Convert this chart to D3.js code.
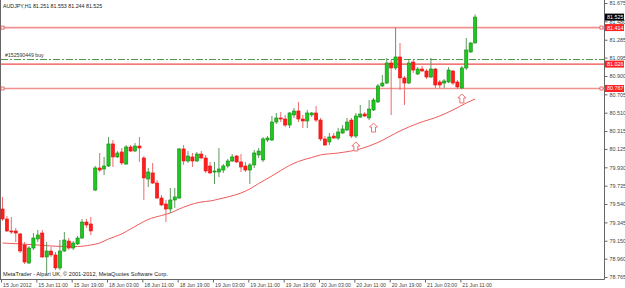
<!DOCTYPE html>
<html><head><meta charset="utf-8">
<style>
body { margin: 0; background: #fff; }
svg { display: block; font-family: 'Liberation Sans', Arial, sans-serif; }
</style>
</head>
<body>
<svg id="chart" width="625" height="288"></svg>
<script src="https://d3js.org/d3.v7.min.js"></script>
<script>
// AUDJPY H1 bars, 15 Jun 03:00 .. 21 Jun 14:00
const opens = [79.487,79.381,79.254,79.254,79.222,79.105,78.914,79.073,79.169,79.232,
  78.978,79.041,78.999,78.861,79.041,79.147,79.073,79.116,79.179,79.349,
  79.328,79.689,79.923,79.912,79.944,80.178,80.040,80.093,79.965,80.146,
  80.103,80.156,80.029,79.806,79.870,79.763,79.604,79.540,79.487,79.583,
  79.604,80.125,79.997,80.040,79.997,80.071,80.029,79.944,79.880,79.880,
  79.901,79.944,79.997,80.050,79.987,79.944,79.901,79.955,80.061,80.008,
  80.220,80.220,80.411,80.454,80.443,80.379,80.486,80.528,80.443,80.422,
  80.486,80.507,80.432,80.231,80.199,80.262,80.241,80.294,80.326,80.432,
  80.262,80.464,80.496,80.454,80.539,80.624,80.794,80.825,81.038,80.985,
  81.102,80.879,80.825,81.048,80.921,80.974,80.953,80.889,80.974,80.836,
  80.825,80.836,80.953,80.836,80.772,80.985,81.155,81.251];
const highs = [79.615,79.413,79.402,79.286,79.232,79.137,79.094,79.232,79.264,79.264,
  79.137,79.084,79.031,79.158,79.243,79.179,79.147,79.201,79.381,79.381,
  79.402,79.944,80.082,80.040,80.252,80.220,80.103,80.135,80.167,80.167,
  80.188,80.252,80.050,79.923,79.976,79.795,79.636,79.583,79.710,79.710,
  80.135,80.167,80.103,80.082,80.093,80.103,80.061,79.987,79.987,80.135,
  79.965,80.018,80.071,80.061,80.071,79.987,79.976,80.114,80.135,80.252,
  80.262,80.475,80.507,80.517,80.486,80.517,80.560,80.624,80.486,80.539,
  80.517,80.581,80.454,80.262,80.294,80.294,80.347,80.379,80.454,80.454,
  80.507,80.592,80.517,80.645,80.666,80.815,80.910,81.091,81.070,81.414,
  81.250,80.900,81.070,81.070,80.995,81.006,80.974,81.091,80.985,80.857,
  80.868,80.995,80.963,80.857,81.006,81.303,81.261,81.553];
const lows = [79.360,79.243,79.222,79.137,79.020,78.903,78.903,79.052,79.137,78.967,
  78.808,78.978,78.839,78.839,79.031,79.052,79.052,79.105,79.169,79.286,
  79.211,79.678,79.880,79.848,79.933,79.933,80.029,79.955,79.955,80.093,
  80.093,79.987,79.583,79.721,79.753,79.593,79.519,79.349,79.445,79.498,
  79.593,79.955,79.976,79.933,79.987,80.018,79.870,79.859,79.753,79.827,
  79.870,79.923,79.987,79.976,79.880,79.880,79.753,79.923,80.029,79.987,
  80.199,80.209,80.390,80.411,80.358,80.347,80.454,80.411,80.347,80.347,
  80.464,80.411,80.209,80.156,80.167,80.231,80.220,80.284,80.316,80.241,
  80.241,80.454,80.464,80.432,80.528,80.613,80.783,80.815,80.486,80.963,
  80.751,80.592,80.815,80.932,80.910,80.942,80.868,80.879,80.772,80.772,
  80.772,80.825,80.804,80.762,80.762,80.963,81.144,81.244];
const closes = [79.381,79.254,79.243,79.232,79.041,78.924,79.073,79.179,79.211,78.978,
  79.041,78.999,78.861,79.041,79.158,79.073,79.126,79.179,79.349,79.317,
  79.254,79.923,79.901,79.944,80.178,80.040,80.082,79.976,80.146,80.103,
  80.156,80.135,79.817,79.880,79.763,79.604,79.530,79.487,79.583,79.615,
  80.125,79.997,80.050,79.997,80.071,80.029,79.891,79.870,79.891,79.912,
  79.944,79.997,80.040,79.987,79.933,79.901,79.955,80.082,80.103,80.231,
  80.241,80.411,80.454,80.443,80.379,80.507,80.528,80.443,80.422,80.507,
  80.507,80.432,80.231,80.167,80.252,80.241,80.305,80.337,80.411,80.262,
  80.475,80.496,80.475,80.549,80.645,80.794,80.825,81.038,80.985,81.102,
  80.879,80.825,81.038,80.963,80.974,80.953,80.889,80.974,80.804,80.804,
  80.847,80.963,80.825,80.783,80.985,81.176,81.250,81.525];

// moving average, read at these bars
const maBars = [0,4,8,13,17,20,22,24,27,29,31,33,36,38,40,42,45,47,49,51,
  54,56,58,61,63,65,67,70,72,76,81,85,90,94,99,102,105,107];
const maValues = [79.126,79.116,79.105,79.090,79.089,79.105,79.126,79.169,79.222,79.275,
  79.328,79.376,79.418,79.445,79.487,79.524,79.562,79.572,79.593,79.615,
  79.657,79.700,79.758,79.838,79.896,79.950,79.992,80.034,80.061,80.082,
  80.125,80.194,80.316,80.396,80.475,80.539,80.613,80.656];

const timeTickBars = [0,8,16,24,32,40,48,56,64,72,80,88,96,104];
const timeLabels = ["15 Jun 2012","15 Jun 11:00","15 Jun 19:00","18 Jun 03:00","18 Jun 11:00",
  "18 Jun 19:00","19 Jun 03:00","19 Jun 11:00","19 Jun 19:00","20 Jun 03:00","20 Jun 11:00",
  "20 Jun 19:00","21 Jun 03:00","21 Jun 11:00"];
const priceTicks = [81.675,81.480,81.285,81.095,80.900,80.705,80.510,80.315,80.125,
  79.930,79.735,79.540,79.345,79.150,78.960,78.765];

const levelPrices = [81.414, 81.026, 80.767];
const levelSelected = [true, false, true];
const orderPrice = 81.075;
const orderLabel = "#152590449 buy";
const arrowBars = [80, 84, 104];
const arrowPrices = [80.146, 80.347, 80.656];
const header = "AUDJPY,H1  81.251 81.553 81.244 81.525";
const footer = "MetaTrader - Alpari UK, \u00a9 2001-2012, MetaQuotes Software Corp.";

const svg = d3.select("#chart");
const plotRight = 604.5, plotBottom = 279.5;

const x = d3.scaleLinear().domain([0, 107]).range([2.5, 475.1]);
const y = d3.scaleLinear().domain([78.765, 81.675]).range([277, 3]);

// frame
svg.append("line").attr("x1", 0.5).attr("x2", 0.5).attr("y1", 0).attr("y2", plotBottom)
  .attr("stroke", "#666");
svg.append("line").attr("x1", 0).attr("x2", plotRight).attr("y1", plotBottom).attr("y2", plotBottom)
  .attr("stroke", "#666");

// right price axis
const yAxis = svg.append("g").attr("transform", `translate(${plotRight},0)`)
  .call(d3.axisRight(y).tickValues(priceTicks).tickFormat(d3.format(".3f")).tickSize(3).tickPadding(2));
yAxis.select(".domain").attr("d", `M0,0V${plotBottom}`).attr("stroke", "#666");
yAxis.selectAll(".tick line").attr("stroke", "#666");
yAxis.selectAll("text").attr("font-size", 5.4).attr("fill", "#444")
  .attr("font-family", "'Liberation Sans', Arial, sans-serif");

// bottom time axis
const xAxis = svg.append("g").attr("transform", `translate(-1.5,${plotBottom})`)
  .call(d3.axisBottom(x).tickValues(timeTickBars).tickFormat((d, i) => timeLabels[i]).tickSize(3).tickPadding(1));
xAxis.select(".domain").remove();
xAxis.selectAll(".tick line").attr("stroke", "#666");
xAxis.selectAll("text").attr("text-anchor", "start").attr("dx", 1.5).attr("font-size", 5.2)
  .attr("fill", "#444").attr("font-family", "'Liberation Sans', Arial, sans-serif");

// horizontal levels
levelPrices.forEach((p, k) => {
  const yy = y(p);
  svg.append("line").attr("x1", 1).attr("x2", plotRight).attr("y1", yy).attr("y2", yy)
    .attr("stroke", levelSelected[k] ? "#f39090" : "#f04848")
    .attr("stroke-width", levelSelected[k] ? 1.6 : 1.1);
  if (levelSelected[k]) {
    [2.5, 601.5].forEach(hx => {
      svg.append("rect").attr("x", hx - 1.5).attr("y", yy - 1.5).attr("width", 3).attr("height", 3)
        .attr("fill", "#fff").attr("stroke", "#e05050").attr("stroke-width", 0.8);
    });
  }
});

// order line
svg.append("line").attr("x1", 1).attr("x2", plotRight).attr("y1", y(orderPrice)).attr("y2", y(orderPrice))
  .attr("stroke", "#4f9a4f").attr("stroke-width", 1).attr("stroke-dasharray", "7,2,2,2");
svg.append("text").attr("x", 5).attr("y", y(orderPrice) - 2).attr("font-size", 5.2)
  .attr("fill", "#333").text(orderLabel);

// moving average
const maLine = d3.line().x(d => x(d[0])).y(d => y(d[1])).curve(d3.curveMonotoneX);
svg.append("path").datum(maBars.map((b, k) => [b, maValues[k]]))
  .attr("d", maLine).attr("fill", "none").attr("stroke", "#f05a5a").attr("stroke-width", 1);

// candles
const bars = d3.range(opens.length).map(i => ({
  i, o: opens[i], h: highs[i], l: lows[i], c: closes[i], up: closes[i] >= opens[i]
}));
const cg = svg.append("g");
cg.selectAll("line.wick").data(bars).join("line").attr("class", "wick")
  .attr("x1", d => x(d.i)).attr("x2", d => x(d.i))
  .attr("y1", d => y(d.h)).attr("y2", d => y(d.l))
  .attr("stroke", d => d.up ? "#5f985f" : "#ee6a6a").attr("stroke-width", 1);
cg.selectAll("rect.body").data(bars).join("rect").attr("class", "body")
  .attr("x", d => x(d.i) - 1.6).attr("width", 3.2)
  .attr("y", d => y(Math.max(d.o, d.c)))
  .attr("height", d => Math.max(1, Math.abs(y(d.o) - y(d.c))))
  .attr("fill", d => d.up ? "#1ec81e" : "#ff1e1e")
  .attr("stroke", d => d.up ? "#138a13" : "#e81010").attr("stroke-width", 0.6);

// arrows
const arrowPath = "M0,-5L4,-1L2,-1L2,4L-2,4L-2,-1L-4,-1Z";
arrowBars.forEach((b, k) => {
  svg.append("path").attr("d", arrowPath)
    .attr("transform", `translate(${x(b)},${y(arrowPrices[k])})`)
    .attr("fill", "#fff").attr("stroke", "#ee7070").attr("stroke-width", 1);
});

// price labels on the axis
const tags = [
  { p: closes[closes.length - 1], bg: "#000" },
  { p: levelPrices[0], bg: "#f22" },
  { p: levelPrices[1], bg: "#f22" },
  { p: levelPrices[2], bg: "#f22" }
];
tags.forEach(t => {
  const yy = y(t.p);
  svg.append("rect").attr("x", plotRight + 0.5).attr("y", yy - 3.5).attr("width", 19).attr("height", 7)
    .attr("fill", t.bg);
  svg.append("text").attr("x", plotRight + 2.5).attr("y", yy + 2).attr("font-size", 5.4)
    .attr("fill", "#fff").text(d3.format(".3f")(t.p));
});

// texts
svg.append("text").attr("x", 3).attr("y", 8).attr("font-size", 5.3).attr("fill", "#222").text(header);
svg.append("text").attr("x", 3).attr("y", 276).attr("font-size", 5.6).attr("fill", "#222").text(footer);
</script>
</body>
</html>
